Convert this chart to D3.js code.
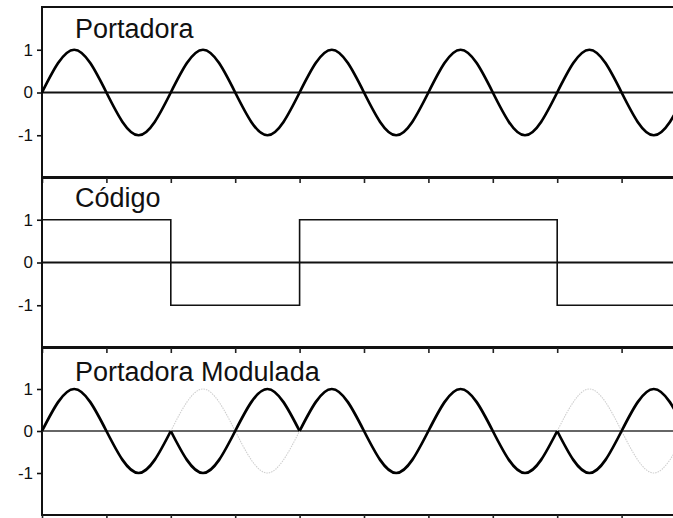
<!DOCTYPE html>
<html><head><meta charset="utf-8">
<script src="https://cdn.jsdelivr.net/npm/d3@7"></script>
<style>
html,body{margin:0;padding:0;background:#fff;}
svg{display:block;}
text{font-family:"Liberation Sans",Arial,sans-serif;fill:#111;}
</style></head>
<body>
<svg id="chart" width="673" height="518"></svg>
<script>
// ---- data (time in carrier periods, read at quarter-period steps) ----
const timeSteps = [0,0.25,0.5,0.75,1,1.25,1.5,1.75,2,2.25,2.5,2.75,3,3.25,3.5,3.75,4,4.25,4.5,4.75,5];
const carrierValues = [0,1,0,-1,0,1,0,-1,0,1,0,-1,0,1,0,-1,0,1,0,-1,0];
const codeTimes = [0,1,1,2,2,4,4,5];
const codeValues = [1,1,-1,-1,1,1,-1,-1];
const modulatedValues = [0,1,0,-1,0,-1,0,1,0,1,0,-1,0,1,0,-1,0,-1,0,1,0];
const bitBoundaries = [0,1,2,4,5];          // segments of constant code
const invertedSegments = [[1,2],[4,5]];     // where code = -1
const panelTitles = ["Portadora","Código","Portadora Modulada"];
const yTicks = [-1,0,1];
const yTickLabels = ["-1","0","1"];
const xTicks = [0,0.5,1,1.5,2,2.5,3,3.5,4,4.5,5];

const svg = d3.select("#chart");
const left = 42, right = 686;
const x = d3.scaleLinear().domain([0,5]).range([left,right]);
const panels = [[7,178],[177,348],[347,515]];

const pts = (vals) => timeSteps.map((t,i)=>({t, v: vals[i]}));
const inRange = (arr,a,b) => arr.filter(d => d.t >= a - 1e-9 && d.t <= b + 1e-9);

panels.forEach(([top,bottom], pi) => {
  const y = d3.scaleLinear().domain([-2,2]).range([bottom,top]);
  const g = svg.append("g");

  // frame
  g.append("rect").attr("x",left).attr("y",top).attr("width",700).attr("height",bottom-top)
    .attr("fill","none").attr("stroke","#111").attr("stroke-width",2);

  // x axis ticks (outward, below the panel)
  const xa = g.append("g").attr("transform",`translate(0,${bottom})`)
    .call(d3.axisBottom(x).tickValues(xTicks).tickFormat("").tickSize(5).tickSizeOuter(0));
  xa.select(".domain").remove();
  xa.selectAll("line").attr("stroke","#222").attr("stroke-width",1.6);

  // y axis
  const ya = g.append("g").attr("transform",`translate(${left},0)`)
    .call(d3.axisLeft(y).tickValues(yTicks).tickFormat((d,i)=>yTickLabels[i]).tickSize(5).tickPadding(4));
  ya.select(".domain").remove();
  ya.selectAll("line").attr("stroke","#111").attr("stroke-width",1.6);
  ya.selectAll("text").style("font-size","17px").attr("fill","#111")
    .style("font-family",'"Liberation Sans",Arial,sans-serif');

  // zero line
  g.append("line").attr("x1",left).attr("x2",673).attr("y1",y(0)).attr("y2",y(0))
    .attr("stroke", pi===2 ? "#333" : "#111").attr("stroke-width", pi===2 ? 1.5 : 2);

  const line = d3.line().x(d=>x(d.t)).y(d=>y(d.v)).curve(d3.curveNatural);

  if (pi === 0) {
    g.append("path").attr("d", line(pts(carrierValues)))
      .attr("fill","none").attr("stroke","#000").attr("stroke-width",2.7);
  } else if (pi === 1) {
    const step = d3.line().x((d,i)=>x(codeTimes[i])).y(d=>y(d));
    g.append("path").attr("d", step(codeValues))
      .attr("fill","none").attr("stroke","#111").attr("stroke-width",1.6);
  } else {
    // faint original carrier where inverted
    invertedSegments.forEach(([a,b]) => {
      g.append("path").attr("d", line(inRange(pts(carrierValues),a,b)))
        .attr("fill","none").attr("stroke","#cfcfcf").attr("stroke-width",1.1)
        .attr("stroke-dasharray","1.5,1");
    });
    for (let k=0;k<bitBoundaries.length-1;k++){
      g.append("path").attr("d", line(inRange(pts(modulatedValues),bitBoundaries[k],bitBoundaries[k+1])))
        .attr("fill","none").attr("stroke","#000").attr("stroke-width",2.7)
        .attr("stroke-linejoin","round");
    }
  }

  g.append("text").attr("x",75).attr("y",[38,207,381][pi])
    .style("font-size","27px").text(panelTitles[pi]);
});
</script>
</body></html>
